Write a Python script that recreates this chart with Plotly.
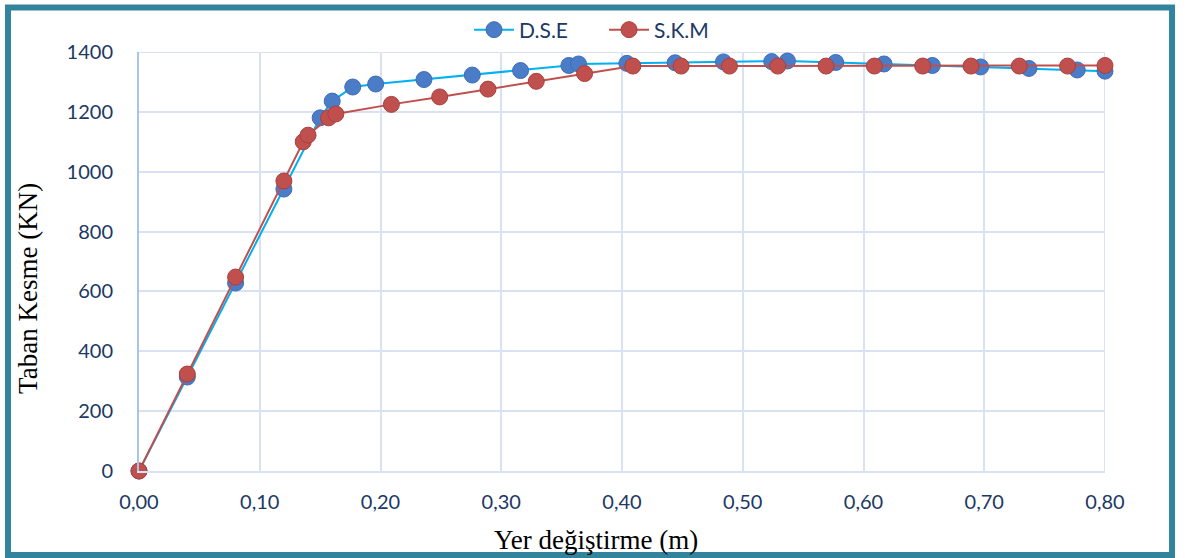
import plotly.graph_objects as go

dse_x = [0.0, 0.04, 0.08, 0.12, 0.150, 0.160, 0.177, 0.196, 0.236, 0.276, 0.316, 0.356, 0.364,
         0.404, 0.444, 0.484, 0.524, 0.537, 0.577, 0.617, 0.657, 0.697, 0.737, 0.777, 0.80]
dse_y = [0, 314, 628, 942, 1180, 1236, 1283, 1293, 1308, 1323, 1338, 1355, 1360,
         1362, 1364, 1367, 1368, 1370, 1365, 1360, 1355, 1350, 1345, 1340, 1336]

skm_x = [0.0, 0.04, 0.08, 0.12, 0.136, 0.140, 0.157, 0.163, 0.209, 0.249, 0.289, 0.329, 0.369,
         0.409, 0.449, 0.489, 0.529, 0.569, 0.609, 0.649, 0.689, 0.729, 0.769, 0.80]
skm_y = [0, 324, 648, 969, 1100, 1122, 1180, 1193, 1225, 1250, 1276, 1302, 1328,
         1353, 1353, 1353, 1353, 1353, 1353, 1353, 1353, 1353, 1353, 1355]

x_ticks = [0.0, 0.1, 0.2, 0.3, 0.4, 0.5, 0.6, 0.7, 0.8]
x_labels = ["0,00", "0,10", "0,20", "0,30", "0,40", "0,50", "0,60", "0,70", "0,80"]
y_ticks = [0, 200, 400, 600, 800, 1000, 1200, 1400]

x_title = "Yer değiştirme (m)"
y_title = "Taban Kesme (KN)"

tick_color = "#203864"
grid_color = "#D9E2F3"
serif = "Liberation Serif, Times New Roman, serif"

fig = go.Figure()
fig.add_trace(go.Scatter(
    x=dse_x, y=dse_y, name="D.S.E", mode="lines+markers", cliponaxis=False,
    line=dict(color="#00B0F0", width=2),
    marker=dict(color="#4A7CC8", size=16, line=dict(color="#3F6DB5", width=1)),
))
fig.add_trace(go.Scatter(
    x=skm_x, y=skm_y, name="S.K.M", mode="lines+markers", cliponaxis=False,
    line=dict(color="#C0504D", width=2),
    marker=dict(color="#C0504D", size=16, line=dict(color="#A9403D", width=1)),
))

fig.update_layout(
    width=1185, height=558,
    margin=dict(l=139, r=80, t=52, b=87, autoexpand=False),
    paper_bgcolor="white", plot_bgcolor="white",
    font=dict(family="Lato, Open Sans, sans-serif", size=20, color=tick_color),
    showlegend=True,
    legend=dict(orientation="h", x=0.4814, xanchor="center", y=1.0525, yanchor="middle",
                font=dict(size=21, color=tick_color), itemwidth=40,
                entrywidth=80, entrywidthmode="pixels",
                bgcolor="rgba(0,0,0,0)"),
    shapes=[dict(type="rect", xref="paper", yref="paper",
                 x0=-0.1356, x1=1.0694, y0=-0.2005, y1=1.1062,
                 line=dict(color="#31849B", width=6), layer="below")],
    annotations=[
        dict(text=x_title, xref="paper", yref="paper", x=0.4731, y=-0.1647,
             showarrow=False, xanchor="center", yanchor="middle",
             font=dict(family=serif, size=27, color="black")),
        dict(text=y_title, xref="paper", yref="paper", x=-0.1150, y=0.4368,
             showarrow=False, xanchor="center", yanchor="middle", textangle=-90,
             font=dict(family=serif, size=27, color="black")),
    ],
)

fig.update_xaxes(
    range=[0, 0.8], tickvals=x_ticks, ticktext=x_labels,
    showgrid=True, gridcolor=grid_color, gridwidth=2,
    showline=True, linecolor=grid_color, linewidth=2, zeroline=False,
    ticks="", ticklabelstandoff=12, automargin=False,
    tickfont=dict(size=20, color=tick_color),
)
fig.update_yaxes(
    range=[0, 1400], tickvals=y_ticks,
    showgrid=True, gridcolor=grid_color, gridwidth=2,
    showline=True, linecolor="#A9C4EB", linewidth=2, zeroline=False,
    ticks="", ticklabelstandoff=20, automargin=False,
    tickfont=dict(size=20, color=tick_color),
)
fig.add_shape(type="line", xref="x", yref="paper", x0=0.8, x1=0.8, y0=0, y1=1,
              line=dict(color=grid_color, width=2), layer="below")
fig.add_shape(type="line", xref="paper", yref="y", x0=0, x1=1, y0=1400, y1=1400,
              line=dict(color=grid_color, width=2), layer="below")

fig.write_html("out.html", config={"displayModeBar": False},
               post_script="document.body.style.margin='0px';")
